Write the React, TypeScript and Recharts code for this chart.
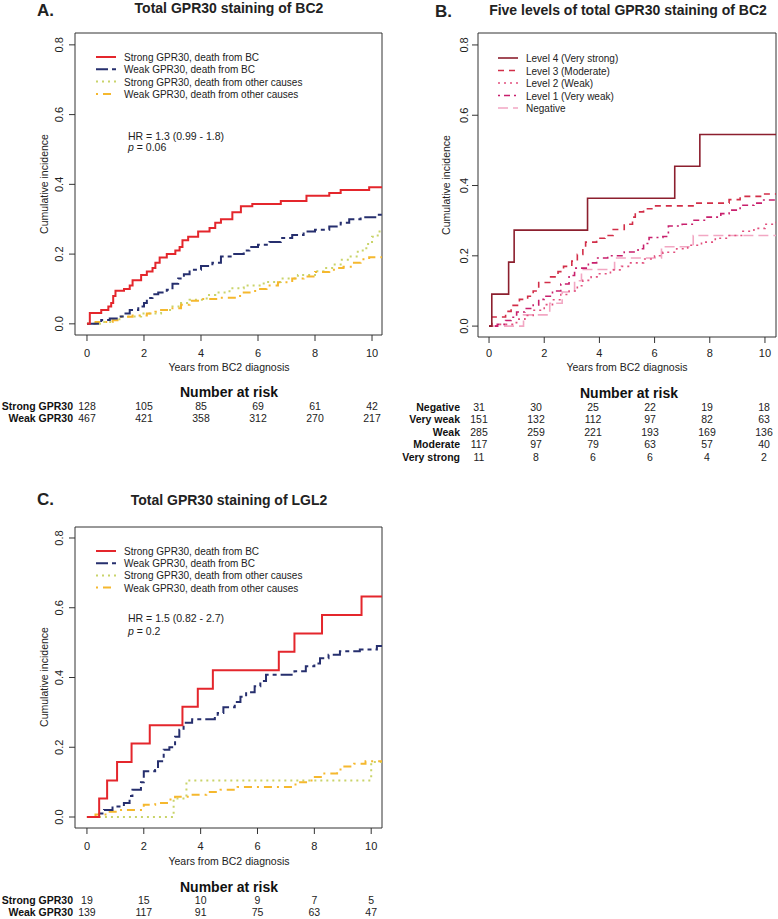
import React from 'react'
import { LineChart, Line, XAxis, YAxis, ReferenceArea } from 'recharts'

type Pt = [number, number]

const FONT = '"Liberation Sans", Arial, sans-serif'
const YEAR_TICKS = [0, 2, 4, 6, 8, 10]
const INC_TICKS = [0, 0.2, 0.4, 0.6, 0.8]

// Panel A: total GPR30 staining of BC2 (years, cumulative incidence)
const strongBcA: Pt[] = [[0, 0], [0.1, 0.031], [0.5, 0.04], [0.75, 0.05], [0.85, 0.06], [0.92, 0.08], [1.0, 0.095], [1.3, 0.1], [1.5, 0.11], [1.6, 0.125], [1.9, 0.14], [2.1, 0.15], [2.3, 0.16], [2.4, 0.175], [2.55, 0.19], [2.8, 0.2], [3.1, 0.21], [3.25, 0.22], [3.35, 0.24], [3.55, 0.25], [3.9, 0.265], [4.3, 0.275], [4.5, 0.29], [4.7, 0.3], [5.1, 0.32], [5.4, 0.337], [5.8, 0.344], [6.8, 0.352], [7.7, 0.367], [8.5, 0.375], [8.9, 0.384], [9.9, 0.392], [10.35, 0.392]]
const weakBcA: Pt[] = [[0, 0], [0.5, 0.011], [0.8, 0.015], [1.1, 0.021], [1.3, 0.03], [1.5, 0.04], [1.8, 0.05], [2.0, 0.06], [2.1, 0.074], [2.3, 0.085], [2.5, 0.09], [2.8, 0.098], [3.0, 0.115], [3.2, 0.13], [3.4, 0.142], [3.6, 0.155], [4.0, 0.166], [4.4, 0.175], [4.7, 0.193], [5.1, 0.2], [5.5, 0.21], [5.7, 0.22], [6.0, 0.227], [6.4, 0.235], [6.8, 0.246], [7.2, 0.255], [7.6, 0.265], [8.0, 0.27], [8.5, 0.279], [8.9, 0.29], [9.2, 0.3], [9.6, 0.306], [10.2, 0.313], [10.35, 0.313]]
const strongOtherA: Pt[] = [[0, 0], [0.5, 0.005], [0.9, 0.013], [1.2, 0.021], [1.9, 0.03], [2.6, 0.04], [3.0, 0.05], [3.3, 0.06], [3.6, 0.069], [4.2, 0.083], [4.5, 0.09], [5.0, 0.102], [5.5, 0.11], [6.2, 0.12], [6.8, 0.13], [7.4, 0.14], [8.0, 0.151], [8.3, 0.16], [8.6, 0.17], [8.9, 0.184], [9.2, 0.193], [9.5, 0.21], [9.8, 0.229], [10.0, 0.25], [10.2, 0.265], [10.35, 0.265]]
const weakOtherA: Pt[] = [[0, 0], [0.3, 0.005], [0.9, 0.01], [1.2, 0.02], [1.6, 0.024], [2.1, 0.03], [2.4, 0.035], [2.6, 0.04], [3.0, 0.045], [3.3, 0.055], [3.6, 0.066], [4.0, 0.071], [4.6, 0.075], [5.3, 0.08], [5.5, 0.09], [5.9, 0.1], [6.3, 0.11], [6.7, 0.119], [7.2, 0.13], [7.6, 0.136], [8.0, 0.149], [8.5, 0.155], [8.8, 0.16], [9.0, 0.164], [9.3, 0.175], [9.6, 0.185], [9.9, 0.191], [10.35, 0.192]]

// Panel B: five levels
const veryStrongB: Pt[] = [[0, 0], [0.1, 0.091], [0.71, 0.182], [0.91, 0.273], [3.57, 0.364], [6.73, 0.455], [7.64, 0.545], [10.47, 0.545]]
const moderateB: Pt[] = [[0, 0], [0.1, 0.026], [0.6, 0.042], [0.8, 0.059], [1.1, 0.076], [1.4, 0.085], [1.6, 0.1], [1.8, 0.124], [2.2, 0.14], [2.5, 0.155], [2.7, 0.17], [3.0, 0.185], [3.2, 0.204], [3.4, 0.22], [3.5, 0.239], [3.9, 0.25], [4.2, 0.258], [4.5, 0.275], [4.9, 0.29], [5.2, 0.31], [5.3, 0.325], [5.6, 0.334], [6.0, 0.342], [7.5, 0.35], [8.7, 0.36], [9.1, 0.369], [9.9, 0.376], [10.47, 0.376]]
const weakB: Pt[] = [[0, 0], [0.4, 0.005], [0.9, 0.01], [1.0, 0.02], [1.3, 0.03], [1.6, 0.045], [2.0, 0.061], [2.3, 0.075], [2.6, 0.09], [2.9, 0.1], [3.2, 0.115], [3.4, 0.13], [3.7, 0.14], [4.0, 0.149], [4.4, 0.16], [4.8, 0.17], [5.1, 0.18], [5.6, 0.191], [6.0, 0.2], [6.3, 0.21], [6.8, 0.22], [7.2, 0.23], [7.7, 0.239], [8.2, 0.25], [8.7, 0.258], [9.2, 0.27], [9.6, 0.278], [10.0, 0.29], [10.3, 0.295], [10.47, 0.295]]
const veryWeakB: Pt[] = [[0, 0], [0.3, 0.005], [0.6, 0.016], [0.8, 0.025], [1.0, 0.04], [1.3, 0.05], [1.6, 0.06], [1.8, 0.076], [2.0, 0.085], [2.3, 0.1], [2.6, 0.12], [2.9, 0.144], [3.1, 0.165], [3.6, 0.18], [3.9, 0.194], [4.3, 0.2], [4.9, 0.211], [5.4, 0.22], [5.6, 0.235], [5.8, 0.252], [6.3, 0.255], [6.5, 0.285], [7.0, 0.29], [7.4, 0.301], [7.9, 0.31], [8.4, 0.32], [8.7, 0.33], [9.1, 0.344], [9.6, 0.35], [9.9, 0.359], [10.47, 0.359]]
const negativeB: Pt[] = [[0, 0], [1.25, 0.032], [2.2, 0.065], [2.65, 0.097], [3.1, 0.129], [3.35, 0.161], [4.55, 0.194], [6.25, 0.226], [7.4, 0.258], [10.47, 0.258]]

// Panel C: total GPR30 staining of LGL2
const strongBcC: Pt[] = [[0, 0], [0.43, 0.053], [0.71, 0.105], [1.06, 0.158], [1.57, 0.211], [2.21, 0.263], [3.36, 0.316], [3.9, 0.368], [4.43, 0.421], [6.75, 0.474], [7.3, 0.526], [8.27, 0.579], [9.66, 0.632], [10.4, 0.632]]
const weakBcC: Pt[] = [[0, 0], [0.45, 0.01], [0.6, 0.02], [0.9, 0.03], [1.3, 0.04], [1.5, 0.06], [1.6, 0.078], [1.9, 0.1], [2.0, 0.131], [2.4, 0.135], [2.5, 0.16], [2.7, 0.193], [2.9, 0.2], [3.1, 0.23], [3.25, 0.25], [3.4, 0.27], [3.7, 0.28], [4.5, 0.29], [4.6, 0.298], [4.8, 0.315], [5.2, 0.33], [5.4, 0.345], [5.6, 0.358], [5.9, 0.375], [6.1, 0.39], [6.3, 0.408], [7.3, 0.418], [7.7, 0.432], [8.0, 0.44], [8.2, 0.455], [8.5, 0.465], [8.9, 0.475], [9.6, 0.48], [10.2, 0.49], [10.4, 0.49]]
const strongOtherC: Pt[] = [[0, 0], [3.05, 0.053], [3.5, 0.105], [10.0, 0.158], [10.4, 0.158]]
const weakOtherC: Pt[] = [[0, 0], [0.3, 0.007], [0.7, 0.015], [1.2, 0.02], [2.0, 0.035], [2.4, 0.04], [2.9, 0.05], [3.1, 0.058], [3.6, 0.064], [4.2, 0.072], [4.7, 0.078], [5.3, 0.086], [7.3, 0.093], [7.5, 0.1], [7.9, 0.115], [8.3, 0.125], [8.8, 0.136], [9.0, 0.145], [9.4, 0.153], [9.8, 0.16], [10.4, 0.16]]

// numbers at risk
const riskA = { 'Strong GPR30': [128, 105, 85, 69, 61, 42], 'Weak GPR30': [467, 421, 358, 312, 270, 217] }
const riskB = {
    Negative: [31, 30, 25, 22, 19, 18],
    'Very weak': [151, 132, 112, 97, 82, 63],
    Weak: [285, 259, 221, 193, 169, 136],
    Moderate: [117, 97, 79, 63, 57, 40],
    'Very strong': [11, 8, 6, 6, 4, 2]
}
const riskC = { 'Strong GPR30': [19, 15, 10, 9, 7, 5], 'Weak GPR30': [139, 117, 91, 75, 63, 47] }

const legendGpr = ['Strong GPR30, death from BC', 'Weak GPR30, death from BC', 'Strong GPR30, death from other causes', 'Weak GPR30, death from other causes']
const legendLevels = ['Level 4 (Very strong)', 'Level 3 (Moderate)', 'Level 2 (Weak)', 'Level 1 (Very weak)', 'Negative']

interface Style { color: string; dash?: string; width: number }
const sStrongBc: Style = { color: '#e4262c', width: 2 }
const sWeakBc: Style = { color: '#262f6e', dash: '12 4 4 4', width: 2 }
const sStrongOther: Style = { color: '#c9d46a', dash: '2 4', width: 2 }
const sWeakOther: Style = { color: '#f5b82e', dash: '2 5 8 5', width: 2 }
const sL4: Style = { color: '#8c1f2e', width: 1.6 }
const sL3: Style = { color: '#d22e48', dash: '6 5', width: 1.6 }
const sL2: Style = { color: '#e2507e', dash: '2 4', width: 1.6 }
const sL1: Style = { color: '#c81f6c', dash: '2 4 6 4', width: 1.6 }
const sNeg: Style = { color: '#f2a7c3', dash: '10 5', width: 1.6 }

interface PanelProps {
    left: number
    top: number
    width: number
    height: number
    margin: { top: number; right: number; bottom: number; left: number }
    xDom: [number, number]
    yDom: [number, number]
    series: { pts: Pt[]; style: Style }[]
    yTickX: number
    xTickY: number
}

function KmPanel(p: PanelProps) {
    const yTick = (props: any) => (
        <text x={p.yTickX} y={props.y} transform={`rotate(-90 ${p.yTickX} ${props.y})`} textAnchor="middle"
            fontSize={11} fill="#222" fontFamily={FONT}>{Number(props.payload.value).toFixed(1)}</text>
    )
    const xTick = (props: any) => (
        <text x={props.x} y={p.xTickY} textAnchor="middle" fontSize={11} fill="#222" fontFamily={FONT}>
            {props.payload.value}
        </text>
    )
    return (
        <div style={{ position: 'absolute', left: p.left, top: p.top }}>
            <LineChart width={p.width} height={p.height} margin={p.margin}>
                <XAxis type="number" dataKey="x" domain={p.xDom} ticks={YEAR_TICKS} allowDataOverflow
                    axisLine={false} tickLine={{ stroke: '#333' }} tickSize={6} height={40} tick={xTick} />
                <YAxis type="number" domain={p.yDom} ticks={INC_TICKS} allowDataOverflow
                    axisLine={false} tickLine={{ stroke: '#333' }} tickSize={6} width={40} tick={yTick} />
                {p.series.map((s, i) => (
                    <Line key={i} data={s.pts.map(([x, y]) => ({ x, y }))} dataKey="y" type="stepAfter"
                        stroke={s.style.color} strokeWidth={s.style.width} strokeDasharray={s.style.dash}
                        dot={false} activeDot={false} isAnimationActive={false} />
                ))}
                <ReferenceArea x1={p.xDom[0]} x2={p.xDom[1]} y1={p.yDom[0]} y2={p.yDom[1]}
                    fill="none" fillOpacity={0} stroke="#333" strokeWidth={1} />
            </LineChart>
        </div>
    )
}

function LegendBlock({ x, y, step, labels, styles }: { x: number; y: number; step: number; labels: string[]; styles: Style[] }) {
    return (
        <g>
            {labels.map((l, i) => (
                <g key={l}>
                    <line x1={x} x2={x + 20} y1={y + i * step - 4} y2={y + i * step - 4} stroke={styles[i].color}
                        strokeWidth={styles[i].width} strokeDasharray={styles[i].dash} />
                    <text x={x + 28} y={y + i * step} fontSize={10} fill="#222" fontFamily={FONT}>{l}</text>
                </g>
            ))}
        </g>
    )
}

function RiskTable({ titleX, titleY, labelX, rowY, step, cols, rows }:
    { titleX: number; titleY: number; labelX: number; rowY: number; step: number; cols: number[]; rows: Record<string, number[]> }) {
    return (
        <g fontFamily={FONT} fill="#111">
            <text x={titleX} y={titleY} textAnchor="middle" fontSize={14} fontWeight="bold">Number at risk</text>
            {Object.entries(rows).map(([name, vals], r) => (
                <g key={name}>
                    <text x={labelX} y={rowY + r * step} textAnchor="end" fontSize={10.5} fontWeight="bold">{name}</text>
                    {vals.map((v, c) => (
                        <text key={c} x={cols[c]} y={rowY + r * step} textAnchor="middle" fontSize={10.5} fill="#222">{v}</text>
                    ))}
                </g>
            ))}
        </g>
    )
}

const scaleX = (t: number, left: number, width: number, dom: [number, number]) =>
    left + ((t - dom[0]) / (dom[1] - dom[0])) * width

export default function App() {
    const domA: [number, number] = [-0.42, 10.35]
    const domB: [number, number] = [-0.4, 10.4]
    const domC: [number, number] = [-0.42, 10.38]
    const colsA = YEAR_TICKS.map(t => scaleX(t, 75, 307, domA))
    const colsC = YEAR_TICKS.map(t => scaleX(t, 75, 307, domC))
    const colsB = YEAR_TICKS.map((_, i) => 479 + i * 57)
    const txt = { fontFamily: FONT, fill: '#222' }

    return (
        <div style={{ position: 'absolute', left: 0, top: 0, width: 778, height: 919, background: '#fff' }}>
            <svg width={778} height={919} style={{ position: 'absolute', left: 0, top: 0 }}>
                {/* Panel A */}
                <text x={37} y={16} fontSize={17} fontWeight="bold" {...txt}>A.</text>
                <text x={229} y={13} fontSize={14} fontWeight="bold" textAnchor="middle" {...txt}>Total GPR30 staining of BC2</text>
                <text x={48} y={184} fontSize={10.5} textAnchor="middle" transform="rotate(-90 48 184)" {...txt}>Cumulative incidence</text>
                <text x={229} y={371} fontSize={10.5} textAnchor="middle" {...txt}>Years from BC2 diagnosis</text>
                <LegendBlock x={96} y={61} step={12.3} labels={legendGpr} styles={[sStrongBc, sWeakBc, sStrongOther, sWeakOther]} />
                <text x={128} y={140} fontSize={10.5} {...txt}>HR = 1.3 (0.99 - 1.8)</text>
                <text x={128} y={151} fontSize={10.5} {...txt}><tspan fontStyle="italic">p</tspan> = 0.06</text>
                <RiskTable titleX={229} titleY={397} labelX={73} rowY={410} step={11.5} cols={colsA} rows={riskA} />

                {/* Panel B */}
                <text x={435} y={17} fontSize={17} fontWeight="bold" {...txt}>B.</text>
                <text x={628} y={15} fontSize={14} fontWeight="bold" textAnchor="middle" {...txt}>Five levels of total GPR30 staining of BC2</text>
                <text x={450} y={185} fontSize={10.5} textAnchor="middle" transform="rotate(-90 450 185)" {...txt}>Cumulative incidence</text>
                <text x={627} y={371} fontSize={10.5} textAnchor="middle" {...txt}>Years from BC2 diagnosis</text>
                <LegendBlock x={498} y={62} step={12.5} labels={legendLevels} styles={[sL4, sL3, sL2, sL1, sNeg]} />
                <RiskTable titleX={629} titleY={398} labelX={460} rowY={410.5} step={12.65} cols={colsB} rows={riskB} />

                {/* Panel C */}
                <text x={37} y={505} fontSize={17} fontWeight="bold" {...txt}>C.</text>
                <text x={229} y={505} fontSize={14} fontWeight="bold" textAnchor="middle" {...txt}>Total GPR30 staining of LGL2</text>
                <text x={48} y={677} fontSize={10.5} textAnchor="middle" transform="rotate(-90 48 677)" {...txt}>Cumulative incidence</text>
                <text x={229} y={865} fontSize={10.5} textAnchor="middle" {...txt}>Years from BC2 diagnosis</text>
                <LegendBlock x={96} y={555} step={12.2} labels={legendGpr} styles={[sStrongBc, sWeakBc, sStrongOther, sWeakOther]} />
                <text x={128} y={622} fontSize={10.5} {...txt}>HR = 1.5 (0.82 - 2.7)</text>
                <text x={128} y={635} fontSize={10.5} {...txt}><tspan fontStyle="italic">p</tspan> = 0.2</text>
                <RiskTable titleX={229} titleY={892} labelX={73} rowY={904} step={12} cols={colsC} rows={riskC} />
            </svg>

            <KmPanel left={0} top={0} width={390} height={380} margin={{ top: 33, right: 8, bottom: 5, left: 35 }}
                xDom={domA} yDom={[-0.032, 0.834]} yTickX={63} xTickY={357}
                series={[
                    { pts: strongOtherA, style: sStrongOther },
                    { pts: weakOtherA, style: sWeakOther },
                    { pts: weakBcA, style: sWeakBc },
                    { pts: strongBcA, style: sStrongBc }
                ]} />
            <KmPanel left={390} top={0} width={388} height={380} margin={{ top: 33, right: 2, bottom: 3, left: 48 }}
                xDom={domB} yDom={[-0.031, 0.834]} yTickX={78} xTickY={357}
                series={[
                    { pts: negativeB, style: sNeg },
                    { pts: weakB, style: sL2 },
                    { pts: veryWeakB, style: sL1 },
                    { pts: moderateB, style: sL3 },
                    { pts: veryStrongB, style: sL4 }
                ]} />
            <KmPanel left={0} top={490} width={390} height={390} margin={{ top: 37, right: 8, bottom: 12, left: 35 }}
                xDom={domC} yDom={[-0.0315, 0.8315]} yTickX={63} xTickY={360}
                series={[
                    { pts: strongOtherC, style: sStrongOther },
                    { pts: weakOtherC, style: sWeakOther },
                    { pts: weakBcC, style: sWeakBc },
                    { pts: strongBcC, style: sStrongBc }
                ]} />
        </div>
    )
}
